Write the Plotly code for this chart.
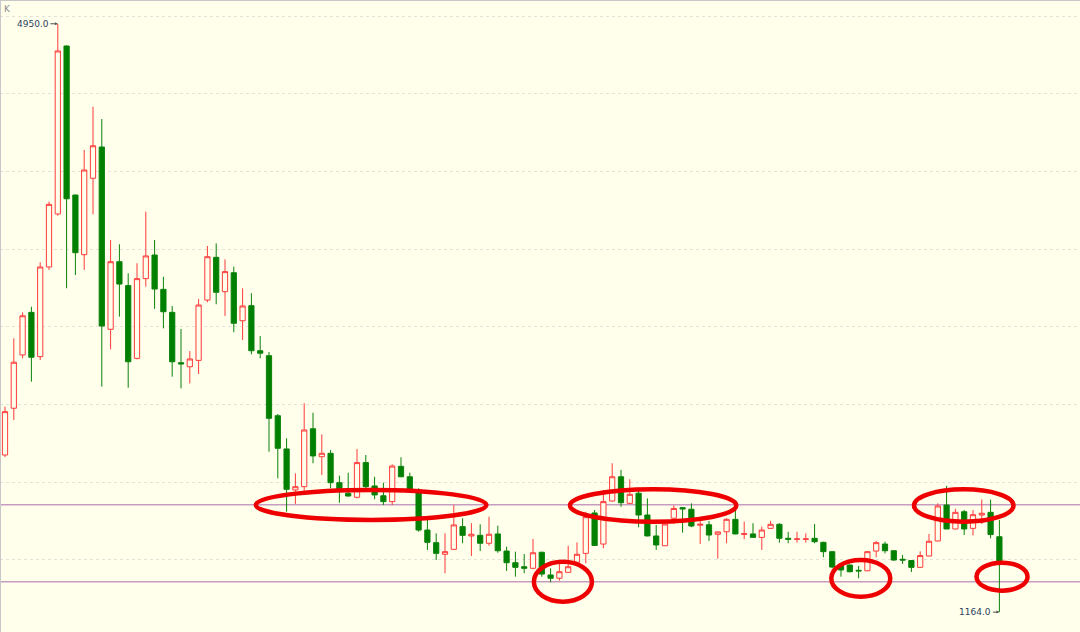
import plotly.graph_objects as go

# candle index (one per period)
idx = list(range(114))

opens = [2175, 2476, 2819, 3093, 2808, 3385, 3726, 4807, 3848, 3464,
         3956, 4157, 2984, 3419, 3265, 2797, 3310, 3462, 3241, 3093,
         2769, 2743, 2784, 3172, 3447, 3226, 3348, 3039, 3136, 2846,
         2814, 2428, 2214, 1950, 1971, 2344, 2164, 2186, 1997, 1929,
         1903, 2126, 1976, 1913, 1875, 2102, 2035, 1950, 1692, 1611,
         1536, 1568, 1714, 1654, 1658, 1607, 1667, 1557, 1482, 1456,
         1446, 1549, 1403, 1382, 1420, 1485, 1542, 1802, 1602, 1879,
         2035, 1864, 1929, 1789, 1654, 1591, 1768, 1836, 1826, 1723,
         1726, 1665, 1681, 1761, 1664, 1667, 1645, 1703, 1729, 1639,
         1632, 1632, 1639, 1613, 1553, 1461, 1467, 1433, 1430, 1557,
         1602, 1559, 1504, 1496, 1452, 1525, 1622, 1853, 1699, 1810,
         1703, 1789, 1806, 1649]
highs = [2486, 2926, 3093, 3129, 3415, 3805, 4950, 4810, 3850, 4138,
         4416, 4337, 3559, 3531, 3344, 3409, 3741, 3559, 3322, 3134,
         2986, 2844, 3179, 3520, 3537, 3434, 3387, 3248, 3216, 2941,
         2838, 2439, 2283, 2057, 2508, 2447, 2308, 2207, 2042, 2061,
         2214, 2175, 2035, 1997, 2115, 2160, 2061, 1961, 1774, 1671,
         1671, 1853, 1768, 1736, 1729, 1778, 1720, 1585, 1553, 1538,
         1635, 1553, 1446, 1488, 1591, 1613, 1810, 1821, 1950, 2122,
         2079, 2019, 1961, 1896, 1725, 1733, 1851, 1840, 1864, 1757,
         1750, 1681, 1768, 1821, 1746, 1736, 1714, 1752, 1736, 1681,
         1681, 1671, 1731, 1617, 1555, 1463, 1470, 1461, 1557, 1622,
         1617, 1562, 1532, 1499, 1555, 1667, 1864, 1976, 1829, 1821,
         1821, 1889, 1888, 1757]
lows = [2162, 2400, 2797, 2647, 2786, 3366, 3715, 3248, 3333, 3366,
        3724, 2615, 2855, 3065, 2608, 2790, 3258, 3115, 2990, 2679,
        2604, 2636, 2696, 3158, 3145, 3070, 2965, 2915, 2823, 2797,
        2196, 2025, 1810, 1860, 1945, 2122, 2046, 1961, 1868, 1907,
        1896, 1954, 1890, 1853, 1853, 2032, 1939, 1681, 1564, 1499,
        1414, 1564, 1607, 1525, 1557, 1591, 1546, 1429, 1392, 1414,
        1440, 1392, 1356, 1366, 1418, 1483, 1478, 1590, 1575, 1875,
        1842, 1862, 1710, 1652, 1564, 1589, 1731, 1675, 1710, 1602,
        1622, 1508, 1607, 1665, 1633, 1643, 1564, 1701, 1611, 1607,
        1611, 1611, 1607, 1517, 1446, 1392, 1420, 1382, 1428, 1517,
        1542, 1495, 1474, 1422, 1450, 1523, 1620, 1699, 1697, 1660,
        1657, 1731, 1639, 1164]
closes = [2454, 2772, 3071, 2804, 3385, 3788, 4775, 3824, 3477, 4009,
          4165, 3005, 3419, 3275, 2775, 3310, 3456, 3243, 3097, 2775,
          2761, 2793, 3140, 3451, 3222, 3355, 3023, 3134, 2846, 2830,
          2411, 2218, 1954, 1971, 2336, 2169, 2186, 1997, 1954, 1911,
          2126, 1971, 1918, 1875, 2104, 2035, 1950, 1692, 1613, 1542,
          1553, 1725, 1658, 1665, 1607, 1665, 1559, 1482, 1452, 1446,
          1546, 1409, 1382, 1424, 1456, 1536, 1778, 1593, 1875, 2035,
          1868, 1922, 1789, 1654, 1596, 1731, 1831, 1828, 1718, 1729,
          1660, 1680, 1761, 1667, 1669, 1645, 1692, 1729, 1639, 1633,
          1635, 1635, 1617, 1553, 1454, 1435, 1424, 1429, 1553, 1611,
          1559, 1499, 1499, 1452, 1528, 1620, 1847, 1699, 1806, 1699,
          1791, 1800, 1663, 1488]

# support / resistance levels
levels = [1855, 1360]

# highlighted regions (x0, x1 in candle index; y0, y1 in price)
ellipses = [
    (28.5, 54.7, 1757, 1950),
    (60.1, 66.7, 1231, 1488),
    (64.2, 83.1, 1746, 1954),
    (93.9, 100.6, 1263, 1499),
    (103.3, 114.6, 1746, 1954),
    (110.4, 116.2, 1302, 1482),
]

max_label = "4950.0"
min_label = "1164.0"

BG = "#ffffec"

fig = go.Figure()
fig.add_trace(go.Candlestick(
    x=idx, open=opens, high=highs, low=lows, close=closes,
    increasing=dict(line=dict(color="#ff3b3b", width=1), fillcolor=BG),
    decreasing=dict(line=dict(color="#0a820a", width=1), fillcolor="#008000"),
    whiskerwidth=0,
    hoverinfo="none",
    showlegend=False,
))

shapes = []
for lv in levels:
    shapes.append(dict(type="line", xref="paper", x0=0, x1=1, yref="y", y0=lv, y1=lv,
                       line=dict(color="#c89cc0", width=1.5), layer="below"))
for (x0, x1, y0, y1) in ellipses:
    shapes.append(dict(type="circle", xref="x", yref="y", x0=x0, x1=x1, y0=y0, y1=y1,
                       line=dict(color="#ee0000", width=4.5), layer="above"))
# frame lines (top and left)
shapes.append(dict(type="line", xref="paper", yref="paper", x0=0, x1=1, y0=1, y1=1,
                   line=dict(color="#c8c8c8", width=2)))
shapes.append(dict(type="line", xref="paper", yref="paper", x0=0, x1=0, y0=0, y1=1,
                   line=dict(color="#c8c8c8", width=2)))

i_max = highs.index(max(highs))
i_min = lows.index(min(lows))

annotations = [
    dict(x=i_max, y=max(highs), xref="x", yref="y", text=max_label, showarrow=True,
         ax=-25, ay=0, arrowhead=2, arrowsize=0.6, arrowwidth=1, arrowcolor="#555555",
         font=dict(family="DejaVu Sans", size=9, color="#2b3f5c")),
    dict(x=i_min, y=min(lows), xref="x", yref="y", text=min_label, showarrow=True,
         ax=-24, ay=0, arrowhead=2, arrowsize=0.6, arrowwidth=1, arrowcolor="#555555",
         font=dict(family="DejaVu Sans", size=9, color="#2b3f5c")),
    dict(x=0.002, y=0.997, xref="paper", yref="paper", text="K", showarrow=False,
         xanchor="left", yanchor="top",
         font=dict(family="DejaVu Sans", size=9, color="#8a8a8a")),
]

fig.update_layout(
    width=1080, height=632,
    margin=dict(l=0, r=0, t=0, b=0),
    paper_bgcolor=BG, plot_bgcolor=BG,
    boxgap=0.15,
    shapes=shapes,
    annotations=annotations,
    xaxis=dict(range=[-0.568, 122.16], showgrid=False, zeroline=False,
               showticklabels=False, rangeslider=dict(visible=False), fixedrange=True),
    yaxis=dict(range=[1036, 5103], showgrid=True, gridcolor="#e2e2da", griddash="dot",
               gridwidth=1, tick0=0, dtick=500, zeroline=False, showticklabels=False,
               fixedrange=True),
)

fig.write_html(
    "out.html",
    config={"displayModeBar": False},
    post_script="document.body.style.margin='0';document.body.style.overflow='hidden';",
)
